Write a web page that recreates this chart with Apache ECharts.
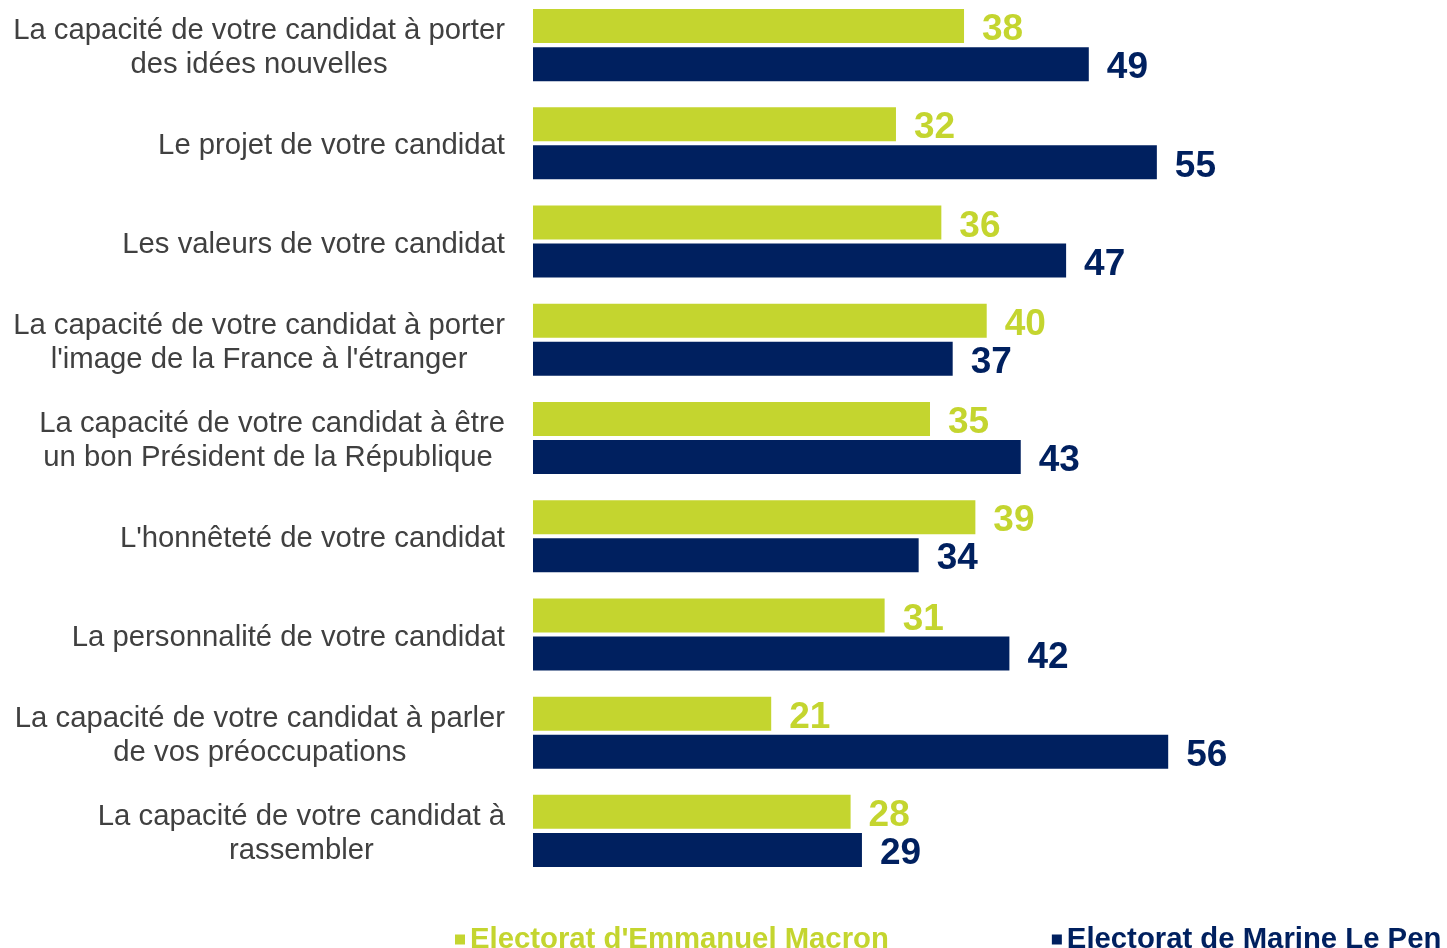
<!DOCTYPE html>
<html>
<head>
<meta charset="utf-8">
<script src="https://cdn.jsdelivr.net/npm/echarts@6/dist/echarts.min.js"></script>
<style>
  html, body { margin: 0; padding: 0; background: #fff; overflow: hidden; }
  #myChart { width: 1447px; height: 958px; margin-top: -10px; }
</style>
</head>
<body>
<div id="myChart"></div>
<script>
// données
const categories = [
  'La capacité de votre candidat à porter\ndes idées nouvelles',
  'Le projet de votre candidat',
  'Les valeurs de votre candidat',
  'La capacité de votre candidat à porter\nl\'image de la France à l\'étranger',
  'La capacité de votre candidat à être\nun bon Président de la République ',
  'L\'honnêteté de votre candidat',
  'La personnalité de votre candidat',
  'La capacité de votre candidat à parler\nde vos préoccupations',
  'La capacité de votre candidat à\nrassembler'
]
const macron = [38, 32, 36, 40, 35, 39, 31, 21, 28]
const lepen = [49, 55, 47, 37, 43, 34, 42, 56, 29]
const seriesNames = ["Electorat d'Emmanuel Macron", 'Electorat de Marine Le Pen']

const green = '#c4d52f'
const navy = '#00205f'
const font = 'Arial, "Liberation Sans", sans-serif'

const myChart = echarts.init(document.getElementById('myChart'))

const option = {
  animation: false,
  textStyle: { fontFamily: font },
  legend: {
    data: seriesNames.map((n, i) => ({
      name: n,
      textStyle: { color: i === 0 ? green : navy }
    })),
    left: 450,
    top: 930,
    icon: 'rect',
    itemWidth: 10,
    itemHeight: 10,
    itemGap: 163,
    selectedMode: false,
    textStyle: {
      fontFamily: font,
      fontSize: 29.3,
      fontWeight: 'bold'
    }
  },
  grid: {
    left: 533,
    right: 120,
    top: 6,
    bottom: 68
  },
  xAxis: {
    type: 'value',
    min: 0,
    max: 70,
    show: false
  },
  yAxis: {
    type: 'category',
    data: categories,
    inverse: true,
    axisLine: { show: false },
    axisTick: { show: false },
    axisLabel: {
      margin: 28,
      padding: [6, 0, 0, 0],
      formatter: value => value.split('\n').map(l => '{c|' + l + '}').join('\n'),
      rich: {
        c: {
          align: 'center',
          fontFamily: font,
          fontSize: 29.3,
          lineHeight: 34,
          color: '#404040'
        }
      }
    }
  },
  series: [
    {
      name: seriesNames[0],
      type: 'bar',
      data: macron,
      barWidth: 34,
      barGap: '12%',
      itemStyle: { color: green },
      label: {
        show: true,
        position: 'right',
        distance: 18,
        offset: [0, 4],
        color: green,
        fontFamily: font,
        fontSize: 37,
        fontWeight: 'bold'
      }
    },
    {
      name: seriesNames[1],
      type: 'bar',
      data: lepen,
      barWidth: 34,
      itemStyle: { color: navy },
      label: {
        show: true,
        position: 'right',
        distance: 18,
        offset: [0, 4],
        color: navy,
        fontFamily: font,
        fontSize: 37,
        fontWeight: 'bold'
      }
    }
  ]
}

myChart.setOption(option)
</script>
</body>
</html>
